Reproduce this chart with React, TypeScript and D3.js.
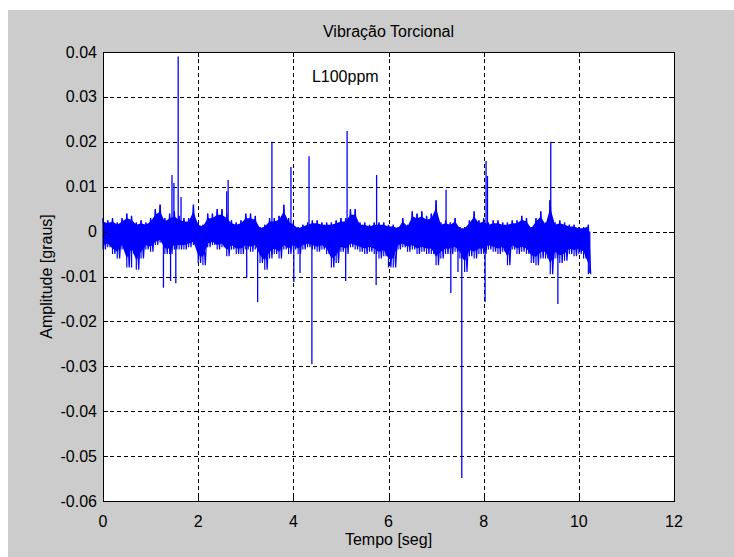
import { useEffect, useRef } from "react";
import * as d3 from "d3";

// axis ticks
const xTickValues = [0, 2, 4, 6, 8, 10, 12];
const yTickValues = [0.04, 0.03, 0.02, 0.01, 0, -0.01, -0.02, -0.03, -0.04, -0.05, -0.06];
const yTickLabels = ["0.04", "0.03", "0.02", "0.01", "0", "-0.01", "-0.02", "-0.03", "-0.04", "-0.05", "-0.06"];

// signal envelope read every 0.1 s (values in 1e-3 graus)
const envStep = 0.1;
const upperEnv = [
  3, 2.5, 3, 2, 3, 4, 3.5, 2, 2.5, 2,
  3, 5, 6, 3, 4, 4.5, 3.5, 3, 3, 6,
  2, 1.5, 4, 4, 5, 5, 4, 2.5, 2, 2.5,
  4, 4, 3.5, 1, 1.5, 3, 3, 3.5, 6, 3,
  2, 1, 1.5, 2, 2.5, 2.5, 2, 2, 2, 2.5,
  3, 3, 5, 5, 2, 2, 1.5, 2, 2, 2,
  1.5, 1.5, 1, 3, 1.5, 4.5, 4, 4.5, 3.5, 4,
  7, 2, 2.5, 2, 3, 1, 1, 2.5, 4.5, 2.5,
  3, 2, 2.5, 2.5, 2, 2, 2.5, 2.5, 3.5, 3,
  1, 3, 4.5, 2, 7, 2, 2.5, 2, 1.5, 1.5,
  1, 1, 1.5,
];
const lowerEnv = [
  -4, -3.5, -5, -6, -4, -8, -5, -8.5, -6, -4,
  -4.5, -3, -2.5, -5, -5, -4, -4, -4, -3.5, -3,
  -7, -7.5, -3.5, -3, -4, -3.5, -5.5, -4, -5, -5,
  -4, -4.5, -4, -7, -8.5, -6, -5, -6, -4, -5,
  -4, -5, -4, -3.5, -4, -4.5, -4, -5, -8, -7,
  -4.5, -5, -3.5, -4, -4.5, -5, -4.5, -5, -6, -5.5,
  -8, -8, -4, -3.5, -4.5, -4, -5, -4.5, -5, -5,
  -7.5, -6, -5, -5, -4.5, -6, -9, -5.5, -6, -5,
  -5, -4, -4.5, -5, -4.5, -7.5, -4, -5, -4.5, -5,
  -7, -7.5, -6, -6, -9.5, -6, -7, -6.5, -5, -5.5,
  -5, -6, -9.5,
];

// isolated spikes (time in s, value in 1e-3 graus)
const spikeTimes = [
  0.6, 1.27, 1.42, 1.45, 1.49, 1.53, 1.58, 1.64, 2.6, 2.63,
  3.02, 3.25, 3.55, 3.95, 4.01, 4.14, 4.33, 4.39, 5.1, 5.13,
  5.74, 5.75, 7.21, 7.31, 7.46, 7.54, 8.03, 8.05, 8.08, 9.39,
  9.41, 9.56, 10.23,
];
const spikeValues = [
  -8, -12.5, -11, 12.6, 10.8, -11.5, 39, 7.7, 9, 11.5,
  -10.3, -15.7, 20, 14.4, -11.2, -9.2, 16.8, -29.5, -11, 22.4,
  -11.9, 12.6, 9.3, -13.7, -9, -54.9, -15.7, 15.7, 12.4, 7,
  20, -16.1, -9.2,
];

function App() {
  const ref = useRef(null);

  useEffect(() => {
    const width = 734;
    const height = 557;
    const plot = { left: 103, right: 674, top: 52, bottom: 501 };
    const font = "'Liberation Sans', Arial, sans-serif";
    const fontSize = "16px";
    const blue = "#0000ff";

    const xScale = d3.scaleLinear([0, 12], [plot.left, plot.right]);
    const yScale = d3.scaleLinear([-0.06, 0.04], [plot.bottom, plot.top]);

    const svg = d3
      .select(ref.current)
      .append("svg")
      .attr("width", width)
      .attr("height", height)
      .style("position", "absolute")
      .style("left", 0)
      .style("top", 0);

    svg.append("rect").attr("width", width).attr("height", height).attr("fill", "#ffffff");

    // figure background
    svg
      .append("rect")
      .attr("x", 8)
      .attr("y", 10)
      .attr("width", width - 8)
      .attr("height", height - 10)
      .attr("fill", "#cccccc");

    svg
      .append("rect")
      .attr("x", plot.left)
      .attr("y", plot.top)
      .attr("width", plot.right - plot.left)
      .attr("height", plot.bottom - plot.top)
      .attr("fill", "#ffffff");

    // dashed grid
    const grid = svg.append("g").attr("stroke", "#000").attr("stroke-width", 1).attr("stroke-dasharray", "4,3");
    xTickValues.slice(1, -1).forEach((v) => {
      const x = Math.round(xScale(v)) + 0.5;
      grid.append("line").attr("x1", x).attr("x2", x).attr("y1", plot.top).attr("y2", plot.bottom);
    });
    yTickValues.slice(1, -1).forEach((v) => {
      const y = Math.round(yScale(v)) + 0.5;
      grid.append("line").attr("x1", plot.left).attr("x2", plot.right).attr("y1", y).attr("y2", y);
    });

    const env = upperEnv.map((u, i) => ({ t: i * envStep, hi: u / 1000, lo: lowerEnv[i] / 1000 }));

    // dense core of the noise band
    const core = d3
      .area()
      .x((d) => xScale(d.t))
      .y0((d) => yScale(d.lo * 0.75))
      .y1((d) => yScale(d.hi * 0.75));
    svg.append("path").attr("d", core(env)).attr("fill", blue);

    // signal: zig-zag between upper and lower envelope
    const pts = [];
    env.forEach((d) => {
      pts.push([d.t, d.hi]);
      pts.push([d.t + envStep / 2, d.lo]);
    });
    const line = d3
      .line()
      .x((d) => xScale(d[0]))
      .y((d) => yScale(d[1]));

    svg
      .append("path")
      .attr("d", line(pts))
      .attr("fill", "none")
      .attr("stroke", blue)
      .attr("stroke-width", 1.2);

    // vertical strokes at every envelope sample
    svg
      .append("g")
      .selectAll("line")
      .data(env)
      .enter()
      .append("line")
      .attr("x1", (d) => xScale(d.t))
      .attr("x2", (d) => xScale(d.t))
      .attr("y1", (d) => yScale(d.lo))
      .attr("y2", (d) => yScale(d.hi))
      .attr("stroke", blue)
      .attr("stroke-width", 1.2);

    svg
      .append("g")
      .selectAll("line")
      .data(spikeTimes)
      .enter()
      .append("line")
      .attr("x1", (d) => xScale(d))
      .attr("x2", (d) => xScale(d))
      .attr("y1", yScale(0))
      .attr("y2", (d, i) => yScale(spikeValues[i] / 1000))
      .attr("stroke", blue)
      .attr("stroke-width", 1.3);

    // axes box and ticks
    svg
      .append("rect")
      .attr("x", plot.left + 0.5)
      .attr("y", plot.top + 0.5)
      .attr("width", plot.right - plot.left)
      .attr("height", plot.bottom - plot.top)
      .attr("fill", "none")
      .attr("stroke", "#000");

    const ticks = svg.append("g").attr("stroke", "#000");
    xTickValues.forEach((v) => {
      const x = Math.round(xScale(v)) + 0.5;
      ticks.append("line").attr("x1", x).attr("x2", x).attr("y1", plot.bottom).attr("y2", plot.bottom - 5);
      ticks.append("line").attr("x1", x).attr("x2", x).attr("y1", plot.top).attr("y2", plot.top + 5);
    });
    yTickValues.forEach((v) => {
      const y = Math.round(yScale(v)) + 0.5;
      ticks.append("line").attr("x1", plot.left).attr("x2", plot.left + 5).attr("y1", y).attr("y2", y);
      ticks.append("line").attr("x1", plot.right).attr("x2", plot.right - 5).attr("y1", y).attr("y2", y);
    });

    // tick labels
    svg
      .append("g")
      .selectAll("text")
      .data(xTickValues)
      .enter()
      .append("text")
      .attr("x", (d) => xScale(d))
      .attr("y", 527)
      .attr("text-anchor", "middle")
      .attr("font-family", font)
      .attr("font-size", fontSize)
      .text((d) => d);

    svg
      .append("g")
      .selectAll("text")
      .data(yTickValues)
      .enter()
      .append("text")
      .attr("x", 97)
      .attr("y", (d) => yScale(d) + 5.5)
      .attr("text-anchor", "end")
      .attr("font-family", font)
      .attr("font-size", fontSize)
      .text((d, i) => yTickLabels[i]);

    // title and labels
    svg
      .append("text")
      .attr("x", (plot.left + plot.right) / 2)
      .attr("y", 37)
      .attr("text-anchor", "middle")
      .attr("font-family", font)
      .attr("font-size", fontSize)
      .text("Vibração Torcional");

    svg
      .append("text")
      .attr("x", (plot.left + plot.right) / 2)
      .attr("y", 545)
      .attr("text-anchor", "middle")
      .attr("font-family", font)
      .attr("font-size", fontSize)
      .text("Tempo [seg]");

    svg
      .append("text")
      .attr("transform", `translate(52, ${(plot.top + plot.bottom) / 2}) rotate(-90)`)
      .attr("text-anchor", "middle")
      .attr("font-family", font)
      .attr("font-size", fontSize)
      .text("Amplitude [graus]");

    svg
      .append("text")
      .attr("x", xScale(4.39))
      .attr("y", yScale(0.0334))
      .attr("font-family", font)
      .attr("font-size", fontSize)
      .text("L100ppm");

    return () => {
      d3.select(ref.current).select("svg").remove();
    };
  }, []);

  return <div ref={ref}></div>;
}

export default App;
